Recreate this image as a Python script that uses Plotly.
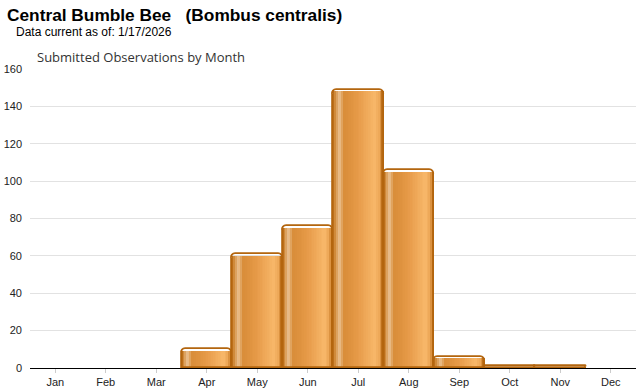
import plotly.graph_objects as go

months = ["Jan", "Feb", "Mar", "Apr", "May", "Jun", "Jul", "Aug", "Sep", "Oct", "Nov", "Dec"]
observations = [0, 0, 0, 10, 61, 76, 149, 106, 6, 1, 1, 0]
y_ticks = [0, 20, 40, 60, 80, 100, 120, 140, 160]

title_text = "<b>Central Bumble Bee   (Bombus centralis)</b>"
subtitle_text = "Data current as of: 1/17/2026"
chart_title = "Submitted Observations by Month"

# gradient colour stops across a bar (position 0..1 -> rgb)
stops = [
    (0.00, (176, 96, 10)),
    (0.05, (208, 138, 58)),
    (0.13, (236, 196, 150)),
    (0.22, (216, 140, 56)),
    (0.50, (230, 154, 72)),
    (0.84, (248, 184, 106)),
    (0.93, (236, 166, 86)),
    (1.00, (176, 96, 10)),
]


def color_at(t):
    for (t0, c0), (t1, c1) in zip(stops[:-1], stops[1:]):
        if t0 <= t <= t1:
            f = (t - t0) / (t1 - t0) if t1 > t0 else 0
            c = [round(a + (b - a) * f) for a, b in zip(c0, c1)]
            return "rgb(%d,%d,%d)" % tuple(c)
    return "rgb(%d,%d,%d)" % stops[-1][1]


fig = go.Figure()
N = 30
strip_vals = [max(v - 0.9, 0) if v > 0 else None for v in observations]
for i in range(N):
    t = (i + 0.5) / N
    fig.add_trace(go.Bar(
        x=months, y=strip_vals,
        offset=-0.5 + i / N, width=1.0 / N + 0.004,
        marker=dict(color=color_at(t), line=dict(width=0)),
        hoverinfo="skip", showlegend=False,
    ))

outline_vals = [v if v > 0 else None for v in observations]
fig.add_trace(go.Bar(
    x=months, y=outline_vals, offset=-0.5, width=1.0,
    marker=dict(color="rgba(0,0,0,0)", line=dict(color="#b3650e", width=1.8), cornerradius=5),
    showlegend=False,
))

L, R, T, B = 30, 4, 69, 22
fig.update_layout(
    width=640, height=390,
    barmode="overlay", bargap=0,
    margin=dict(l=L, r=R, t=T, b=B, autoexpand=False),
    plot_bgcolor="white", paper_bgcolor="white",
    font=dict(family="Liberation Sans, Arial", size=11, color="#222"),
    xaxis=dict(
        type="category", categoryorder="array", categoryarray=months,
        range=[-0.5, 11.5],
        showline=True, linecolor="#000", linewidth=1,
        ticks="outside", ticklen=4, tickcolor="#ccc",
        showgrid=False, automargin=False,
        tickfont=dict(size=11, color="#222"),
    ),
    yaxis=dict(
        range=[0, 160], tickvals=y_ticks,
        showgrid=True, gridcolor="#e2e2e2", gridwidth=1,
        zeroline=False, ticks="", ticklabelstandoff=7, automargin=False,
        tickfont=dict(size=11, color="#222"),
    ),
    annotations=[
        dict(text=title_text, x=5, y=390 - 15, xref="paper", yref="paper",
             showarrow=False, xanchor="left", yanchor="middle",
             font=dict(family="Liberation Sans, Arial", size=17.3, color="#000")),
        dict(text=subtitle_text, x=14, y=390 - 32, xref="paper", yref="paper",
             showarrow=False, xanchor="left", yanchor="middle",
             font=dict(family="Liberation Sans, Arial", size=12, color="#000")),
        dict(text=chart_title, x=35, y=390 - 57, xref="paper", yref="paper",
             showarrow=False, xanchor="left", yanchor="middle",
             font=dict(family="Open Sans", size=13, color="#333")),
    ],
)

# convert pixel-positioned annotations into paper coordinates
pw, ph = 640 - L - R, 390 - T - B
for a in fig.layout.annotations:
    a.x = (a.x - L) / pw
    a.y = (a.y - B) / ph

fig.write_html("out.html", config={"displayModeBar": False},
               post_script="document.body.style.margin='0';document.body.style.overflow='hidden';")
